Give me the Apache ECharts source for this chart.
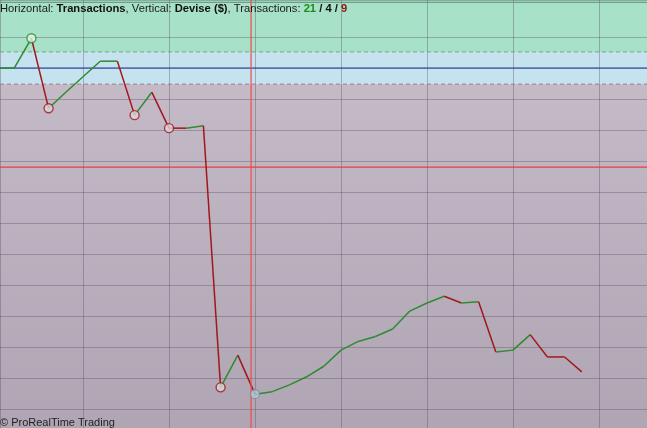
<!DOCTYPE html>
<html><head><meta charset="utf-8">
<script src="https://cdn.jsdelivr.net/npm/echarts@6/dist/echarts.min.js"></script>
<style>html,body{margin:0;padding:0;overflow:hidden}#c{width:647px;height:428px}</style>
</head><body><div id="c"></div>
<script>
// Equity curve per trade (cumulative $ result), index 0 = start
const tradeIndex = [0,1,2,3,4,5,6,7,8,9,10,11,12,13,14,15,16,17,18,19,20,21,22,23,24,25,26,27,28,29,30,31,32,33,34];
const equity = [0,0,48,-65,-39,-14,11,11,-76,-39,-97,-97,-93,-515,-463,-526,-522,-511,-498,-481,-455,-441,-433,-421,-392,-379,-368,-379,-377,-458,-455,-430,-466,-466,-490];
const redCircleIdx = [3,8,10,13];
const greenCircleIdx = [2];
const cursorIdx = 15;
const cursorX = 14.77;
const bandHigh = 26, bandLow = -26;
const redLevel = -160;
const topLevel = 106;
const counts = {win: 21, neutral: 4, loss: 9};
// visible window of the axes
const xRange = [0.174, 37.79];
const yRange = [-580.6, 109.7];
const yStep = 50, xStep = 5;

const GREEN = '#2e8b2e', RED = '#a3161c';
const series = [];
// background bands
series.push({type:'line', data:[], z:-1, silent:true,
  markArea:{silent:true, z:-1, data:[
    [{yAxis:bandHigh, itemStyle:{color:'#a7e1c7'}},{yAxis:500}],
    [{yAxis:bandLow, itemStyle:{color:'#c5e3ef'}},{yAxis:bandHigh}]
  ]}});
function refLine(pts, color, type, width, z) {
  series.push({type:'line', data:pts, symbol:'none', silent:true, z:z||2, animation:false,
    color:color, lineStyle:{color:color, type:type, width:width}, itemStyle:{color:color}});
}
const H = v => [[xRange[0], v], [xRange[1], v]];
refLine(H(bandHigh), '#7f9f8c', [4,3], 1);
refLine(H(bandLow), '#a07886', [4,3], 1);
refLine(H(0), '#23329a', 'solid', 1.2);
refLine(H(redLevel), '#ec3b40', 'solid', 1.2);
refLine(H(topLevel), '#5d8f74', 'solid', 1);
refLine([[cursorX, yRange[0]], [cursorX, yRange[1]]], '#f24a4a', 'solid', 1.2, 4);

let prevColor = GREEN;
for (let i = 0; i < equity.length - 1; i++) {
  let col = equity[i+1] > equity[i] ? GREEN : (equity[i+1] < equity[i] ? RED : prevColor);
  prevColor = col;
  series.push({type:'line', data:[[tradeIndex[i],equity[i]],[tradeIndex[i+1],equity[i+1]]],
    symbol:'none', lineStyle:{color:col,width:1.5}, z:3, silent:true, animation:false});
}

series.push({type:'scatter', z:5, symbol:'circle', symbolSize:9, silent:true,
  data: redCircleIdx.map(i=>[tradeIndex[i],equity[i]]),
  itemStyle:{color:'#d9d6dc', borderColor:RED, borderWidth:1.4}});
series.push({type:'scatter', z:5, symbol:'circle', symbolSize:9, silent:true,
  data: greenCircleIdx.map(i=>[tradeIndex[i],equity[i]]),
  itemStyle:{color:'#e6f3ea', borderColor:GREEN, borderWidth:1.4}});
series.push({type:'scatter', z:5, symbol:'circle', symbolSize:9, silent:true,
  data: [[tradeIndex[cursorIdx],equity[cursorIdx]]],
  itemStyle:{color:'#b2c6d4', borderColor:'#7c8b98', borderWidth:1.2}});

// split line colours (hide the gridline that the frame replaces at the top)
const gridCol = 'rgba(90,80,100,0.38)';
const yTicks = [yRange[0]];
for (let v = Math.ceil(yRange[0]/yStep)*yStep; v < yRange[1]; v += yStep) if (v > yRange[0]) yTicks.push(v);
yTicks.push(yRange[1]);
const yLineColors = yTicks.map(v => v === 100 ? 'rgba(0,0,0,0)' : gridCol);

const F = 'Liberation Sans, Arial, sans-serif';
const FS = 11.2;
const chart = echarts.init(document.getElementById('c'), null, {renderer:'canvas'});
chart.setOption({
  animation:false,
  backgroundColor:{type:'linear',x:0,y:0,x2:0,y2:1,colorStops:[{offset:0,color:'#cabfcb'},{offset:1,color:'#afa5b3'}]},
  grid:{left:0, top:0, right:0, bottom:0, containLabel:false},
  xAxis:{type:'value', min:xRange[0], max:xRange[1], minInterval:xStep, maxInterval:xStep, axisLine:{show:false}, axisTick:{show:false}, axisLabel:{show:false},
    splitLine:{show:true, lineStyle:{color:gridCol,width:1}}},
  yAxis:{type:'value', min:yRange[0], max:yRange[1], minInterval:yStep, maxInterval:yStep, axisLine:{show:false}, axisTick:{show:false}, axisLabel:{show:false},
    splitLine:{show:true, lineStyle:{color:yLineColors,width:1}}},
  title:[{left:0, top:3, padding:0, text:'{n|Horizontal: }{b|Transactions}{n|, Vertical: }{b|Devise ($)}{n|, Transactions: }{g|'+counts.win+'}{b| / '+counts.neutral+' / }{r|'+counts.loss+'}',
    textStyle:{fontWeight:'normal', rich:{
      n:{fontFamily:F,fontSize:FS,fontWeight:'normal',color:'#1a1a1a'},
      b:{fontFamily:F,fontSize:FS,fontWeight:'bold',color:'#111'},
      g:{fontFamily:F,fontSize:FS,fontWeight:'bold',color:'#1c8a1c'},
      r:{fontFamily:F,fontSize:FS,fontWeight:'bold',color:'#8e1414'}}}},
    {left:0, top:417, padding:0, text:'© ProRealTime Trading', textStyle:{fontFamily:F,fontSize:11,fontWeight:'normal',color:'#222'}}],
  series: series
});
</script></body></html>
